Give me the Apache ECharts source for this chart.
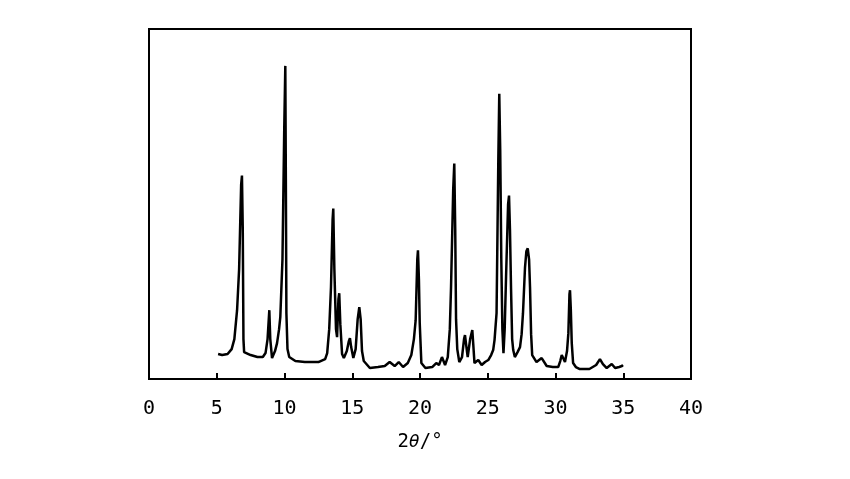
<!DOCTYPE html>
<html>
<head>
<meta charset="utf-8">
<script src="https://cdn.jsdelivr.net/npm/echarts@6/dist/echarts.min.js"></script>
<style>html,body{margin:0;padding:0;background:#fff}#c{width:850px;height:479px}</style>
</head>
<body>
<div id="c"></div>
<script>
// 2θ positions (degrees)
var twoTheta = [5.10,5.40,5.80,6.10,6.30,6.50,6.65,6.80,6.86,6.92,6.97,7.02,7.50,8.00,8.40,8.60,8.75,8.88,8.95,9.08,9.30,9.45,9.60,9.69,9.85,9.98,10.06,10.10,10.14,10.22,10.35,10.8,11.5,12.5,13.0,13.15,13.30,13.43,13.55,13.60,13.68,13.80,13.88,13.98,14.04,14.12,14.25,14.38,14.60,14.75,14.83,14.92,15.08,15.25,15.40,15.52,15.62,15.72,15.85,16.3,16.9,17.4,17.76,18.13,18.43,18.75,19.1,19.36,19.55,19.68,19.80,19.85,19.92,19.98,20.10,20.4,20.9,21.2,21.4,21.62,21.85,22.05,22.20,22.29,22.45,22.53,22.60,22.66,22.75,22.90,23.10,23.25,23.32,23.40,23.52,23.70,23.86,23.93,24.02,24.30,24.55,24.80,25.04,25.25,25.40,25.50,25.65,25.78,25.85,25.92,26.00,26.08,26.16,26.25,26.35,26.50,26.57,26.64,26.72,26.80,26.88,27.00,27.20,27.38,27.50,27.60,27.75,27.85,27.95,28.05,28.12,28.20,28.28,28.37,28.60,28.98,29.35,29.8,30.2,30.35,30.46,30.60,30.70,30.85,30.95,31.03,31.07,31.13,31.20,31.30,31.50,31.8,32.5,33.0,33.28,33.50,33.78,34.15,34.40,34.70,34.90,34.98];
// relative intensity (arbitrary units)
var intensity = [25,24,25,30,40,69,110,195,204,150,40,27,24,22,22,26,40,69,40,21,28,36,50,62,120,250,314,200,66,30,22,18,17,17,20,26,50,92,160,171,110,50,42,80,86,55,25,21,28,38,41,32,21,30,60,72,60,28,18,11,12,13,17,13,17,12,16,24,40,59,120,129,100,56,16,11,12,16,14,22,14,22,50,92,190,216,150,60,30,17,22,40,44,35,22,40,49,35,16,19,14,17,19,24,29,39,66,220,286,230,120,50,26,50,102,175,184,150,90,40,29,22,27,32,45,66,112,128,131,120,92,45,24,24,17,21,13,12,12,18,24,20,17,28,46,85,89,70,36,16,12,10,10,14,20,15,11,15,11,12,13,14];
var xTicks = [0,5,10,15,20,25,30,35,40];

var pts = twoTheta.map(function(x,i){return [x,intensity[i]];});
var chart = echarts.init(document.getElementById('c'));
chart.setOption({
  animation:false,
  grid:{left:149,right:159,top:29,bottom:100,show:true,borderColor:'#000',borderWidth:2,backgroundColor:'transparent'},
  xAxis:{type:'value',min:xTicks[0],max:xTicks[xTicks.length-1],interval:5,
    axisLine:{show:true,lineStyle:{color:'#000',width:2}},
    axisTick:{show:true,inside:true,length:6,lineStyle:{color:'#000',width:2}},
    axisLabel:{color:'#000',fontSize:20,margin:20,fontFamily:'DejaVu Sans Mono'},
    splitLine:{show:false},
    name:'{a|2}{b|θ}{a|/°}',nameLocation:'middle',nameGap:54,
    nameTextStyle:{rich:{a:{fontSize:19,color:'#000',fontFamily:'DejaVu Sans Mono'},b:{fontSize:18,color:'#000',fontStyle:'italic',fontFamily:'DejaVu Sans Mono'}}}
  },
  yAxis:{type:'value',min:0,max:351,axisLine:{show:true,lineStyle:{color:'#000',width:2}},axisTick:{show:false},axisLabel:{show:false},splitLine:{show:false}},
  series:[{type:'line',data:pts,showSymbol:false,symbol:'none',lineStyle:{color:'#000',width:2.5},itemStyle:{color:'#000'}}]
});
</script>
</body>
</html>
